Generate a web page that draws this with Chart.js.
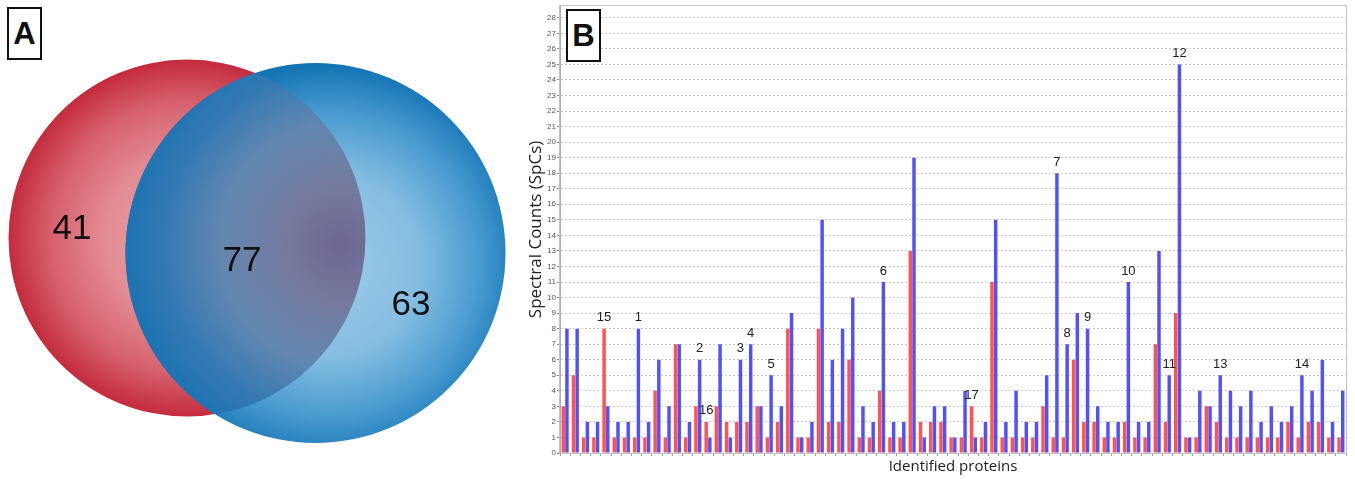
<!DOCTYPE html>
<html><head><meta charset="utf-8">
<script src="https://cdn.jsdelivr.net/npm/chart.js@4.4.1/dist/chart.umd.min.js"></script>
<style>
html,body{margin:0;padding:0;background:#fff;width:1355px;height:483px;overflow:hidden;}
#venn{position:absolute;left:0;top:0;}
#bars{position:absolute;left:520px;top:0;}
.tag{position:absolute;width:31px;height:49px;border:2.5px solid #111;background:#fff;font:bold 31px 'Liberation Sans',Arial,sans-serif;display:flex;align-items:center;justify-content:center;color:#111;box-sizing:content-box;}
</style></head><body>
<canvas id="venn" width="530" height="483"></canvas>
<canvas id="bars" width="835" height="483"></canvas>
<div class="tag" style="left:7px;top:7px">A</div>
<div class="tag" style="left:566px;top:9px">B</div>
<script>
// ---------- Panel A: Venn data ----------
const vennSets = ['Set 1', 'Set 2'];
const vennOnly = [41, 63];
const vennShared = 77;
const vennCenterX = [187, 315.5];
const vennCenterY = [238, 253];
const vennRadius = [178.5, 190];

// ---------- Panel B: bar data ----------
const proteins = ['P1','P2','P3','P4','P5','P6','P7','P8','P9','P10','P11','P12','P13','P14','P15','P16','P17','P18','P19','P20',
 'P21','P22','P23','P24','P25','P26','P27','P28','P29','P30','P31','P32','P33','P34','P35','P36','P37','P38','P39','P40',
 'P41','P42','P43','P44','P45','P46','P47','P48','P49','P50','P51','P52','P53','P54','P55','P56','P57','P58','P59','P60',
 'P61','P62','P63','P64','P65','P66','P67','P68','P69','P70','P71','P72','P73','P74','P75','P76','P77'];
const redCounts = [3,5,1,1,8,1,1,1,1,4,1,7,1,3,2,3,2,2,2,
 3,1,2,8,1,1,8,2,2,6,1,1,4,1,1,13,2,2,2,
 1,1,3,1,11,1,1,1,1,3,1,1,6,2,2,1,1,2,
 1,1,7,2,9,1,1,3,2,1,1,1,1,1,1,2,1,2,2,1,1];
const blueCounts = [8,8,2,2,3,2,2,8,2,6,3,7,2,6,1,7,1,6,7,
 3,5,3,9,1,2,15,6,8,10,3,2,11,2,2,19,1,3,3,
 1,4,1,2,15,2,4,2,2,5,18,7,9,8,3,2,2,11,
 2,2,13,5,25,1,4,3,5,4,3,4,2,3,2,3,5,4,6,2,4];
const yTickValues = [0,1,2,3,4,5,6,7,8,9,10,11,12,13,14,15,16,17,18,19,20,21,22,23,24,25,26,27,28];
const markerText    = ['15','1','2','16','3','4','5','6','17','7','8','9','10','11','12','13','14'];
const markerProtein = [5,8,14,15,18,19,21,32,41,49,50,52,56,60,61,65,73];
const markerSeries  = [0,1,1,0,1,1,1,1,0,1,1,1,1,1,1,1,1];

// ---------- Venn chart ----------
const VENN_X_MAX = 530, VENN_Y_MAX = 483;
function radial(chart, cx, cy, r, stops, fallback) {
  const sx = chart.scales.x, sy = chart.scales.y;
  if (!sx || !sy) return fallback;
  const px = sx.getPixelForValue(cx), py = sy.getPixelForValue(cy);
  const pr = Math.abs(sx.getPixelForValue(r) - sx.getPixelForValue(0));
  if (![px, py, pr].every(Number.isFinite) || pr <= 0) return fallback;
  const g = chart.ctx.createRadialGradient(px, py, 0, px, py, pr);
  stops.forEach(s => g.addColorStop(s[0], s[1]));
  return g;
}
// radius in data units -> pixels (x scale spans the full canvas width)
function radiusPx(ctx, r) {
  return r * ctx.chart.width / VENN_X_MAX;
}
const redStops = [[0,'#eaa6ac'],[0.45,'#e38c94'],[0.75,'#d7636f'],[1,'#c42b3d']];
const blueStops = [[0,'#9ecce7'],[0.45,'#86bee1'],[0.75,'#4b9cd0'],[1,'#1474b4']];
const lensStops = [[0,'#6c6690'],[0.25,'#76799e'],[0.55,'#6287b0'],[0.8,'#3479b3'],[1,'#1a72b2']];

const lensClip = {
  id: 'lensClip',
  beforeDatasetDraw(chart, args) {
    if (args.index !== 0) return;
    const red = chart.getDatasetMeta(2).data[0];
    const ctx = chart.ctx;
    ctx.save();
    ctx.beginPath();
    ctx.arc(red.x, red.y, red.options.radius, 0, Math.PI * 2);
    ctx.clip();
  },
  afterDatasetDraw(chart, args) {
    if (args.index !== 0) return;
    chart.ctx.restore();
  }
};
const vennLabels = {
  id: 'vennLabels',
  afterDatasetsDraw(chart) {
    const ctx = chart.ctx, sx = chart.scales.x, sy = chart.scales.y;
    const pos = [[72, 228, vennOnly[0]], [242, 260, vennShared], [411, 304, vennOnly[1]]];
    ctx.save();
    ctx.font = "35px 'Liberation Sans', Arial, sans-serif";
    ctx.fillStyle = '#111';
    ctx.textAlign = 'center';
    ctx.textBaseline = 'middle';
    pos.forEach(p => ctx.fillText(String(p[2]), sx.getPixelForValue(p[0]), sy.getPixelForValue(p[1]) + 1));
    ctx.restore();
  }
};
new Chart(document.getElementById('venn'), {
  type: 'bubble',
  data: {
    datasets: [
      { label: 'overlap', order: 0, data: [{x: vennCenterX[1], y: vennCenterY[1]}],
        radius: c => radiusPx(c, vennRadius[1]),
        backgroundColor: c => radial(c.chart, vennCenterX[1] + 25, vennCenterY[1] - 8, 220, lensStops, '#5a7fae') },
      { label: vennSets[1], order: 1, data: [{x: vennCenterX[1], y: vennCenterY[1]}],
        radius: c => radiusPx(c, vennRadius[1]),
        backgroundColor: c => radial(c.chart, vennCenterX[1] + 12, vennCenterY[1] + 12, 200, blueStops, '#4b9cd0') },
      { label: vennSets[0], order: 2, data: [{x: vennCenterX[0], y: vennCenterY[0]}],
        radius: c => radiusPx(c, vennRadius[0]),
        backgroundColor: c => radial(c.chart, vennCenterX[0], vennCenterY[0], vennRadius[0], redStops, '#d6616d') }
    ]
  },
  options: {
    responsive: false, animation: false, events: [],
    layout: { padding: 0, autoPadding: false },
    elements: { point: { borderWidth: 0, hoverRadius: 0 } },
    plugins: { legend: { display: false }, tooltip: { enabled: false } },
    scales: {
      x: { type: 'linear', min: 0, max: VENN_X_MAX, display: false },
      y: { type: 'linear', min: 0, max: VENN_Y_MAX, reverse: true, display: false }
    }
  },
  plugins: [lensClip, vennLabels]
});

// ---------- Bar chart ----------
const frame = {
  id: 'frame',
  afterDraw(chart) {
    const a = chart.chartArea, ctx = chart.ctx;
    ctx.save();
    ctx.strokeStyle = '#c2c2c2';
    ctx.lineWidth = 1;
    ctx.strokeRect(Math.round(a.left) - 0.5, Math.round(a.top) - 0.5, Math.round(a.right - a.left) + 1, Math.round(a.bottom - a.top) + 1);
    ctx.restore();
  }
};
const markers = {
  id: 'markers',
  afterDatasetsDraw(chart) {
    const ctx = chart.ctx;
    ctx.save();
    ctx.font = "13px 'Liberation Sans Narrow', 'Liberation Sans', Arial, sans-serif";
    ctx.fillStyle = '#222';
    ctx.textAlign = 'center';
    ctx.textBaseline = 'middle';
    markerText.forEach((t, i) => {
      const el = chart.getDatasetMeta(markerSeries[i]).data[markerProtein[i] - 1];
      ctx.fillText(t, el.x, el.y - 11);
    });
    ctx.restore();
  }
};
new Chart(document.getElementById('bars'), {
  type: 'bar',
  data: {
    labels: proteins,
    datasets: [
      { label: 'Red', data: redCounts, backgroundColor: '#ff5252', borderWidth: 0 },
      { label: 'Blue', data: blueCounts, backgroundColor: '#5050ff', borderWidth: 0 }
    ]
  },
  options: {
    responsive: false, animation: false, events: [],
    layout: { padding: { top: 5, right: 9, bottom: 4, left: 0 } },
    datasets: { bar: { categoryPercentage: 0.72, barPercentage: 0.94 } },
    plugins: { legend: { display: false }, tooltip: { enabled: false } },
    scales: {
      x: {
        type: 'category',
        afterFit: s => { s.height = 26; },
        ticks: { display: false },
        grid: { display: true, drawOnChartArea: false, drawTicks: true, tickLength: 3, color: '#9a9a9a', tickColor: '#9a9a9a' },
        border: { display: true, color: '#b0b0b0' },
        title: { display: true, text: 'Identified proteins', color: '#222',
                 font: { family: "'Open Sans', sans-serif", size: 15 }, padding: { top: 0, bottom: 3 } }
      },
      y: {
        type: 'linear', min: 0, max: 28.77,
        afterFit: s => { s.width = 40; },
        afterBuildTicks: s => { s.ticks = yTickValues.map(v => ({ value: v })); },
        ticks: { stepSize: 1, color: '#555', font: { size: 8, family: "'Liberation Sans', Arial, sans-serif" }, padding: 1 },
        grid: { color: '#cdcdcd', tickLength: 3, tickColor: '#888', drawTicks: true },
        border: { display: true, color: '#b0b0b0', dash: [2, 2] },
        title: { display: true, text: 'Spectral Counts (SpCs)', color: '#222',
                 font: { family: "'Open Sans', sans-serif", size: 17 }, padding: { top: 6, bottom: 0 } }
      }
    }
  },
  plugins: [frame, markers]
});
</script></body></html>
